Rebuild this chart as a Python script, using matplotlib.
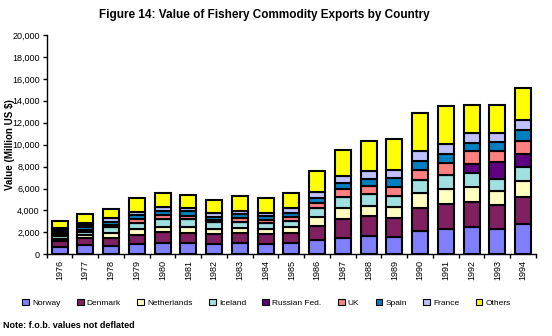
import matplotlib
matplotlib.use('Agg')
import matplotlib.pyplot as plt
from matplotlib.patches import Patch
from matplotlib.ticker import FuncFormatter
import numpy as np

plt.rcParams['font.family'] = ['Liberation Sans', 'DejaVu Sans']

years = [str(y) for y in range(1976, 1995)]
series_names = ['Norway', 'Denmark', 'Netherlands', 'Iceland', 'Russian Fed.',
                'UK', 'Spain', 'France', 'Others']

norway      = [700, 850, 790, 970, 1030, 1030, 970, 1030, 970, 1000, 1300, 1520, 1700, 1580, 2120, 2330, 2520, 2330, 2760]
denmark     = [480, 630, 730, 820, 1000, 910, 880, 910, 880, 970, 1310, 1720, 1780, 1750, 2090, 2280, 2240, 2150, 2420]
netherlands = [210, 250, 420, 540, 450, 540, 450, 480, 450, 480, 750, 970, 910, 970, 1400, 1360, 1420, 1310, 1520]
iceland     = [280, 330, 510, 550, 730, 730, 610, 550, 550, 610, 880, 1030, 1120, 1000, 1150, 1240, 1210, 1060, 1240]
russia      = [0, 0, 0, 0, 0, 0, 0, 0, 0, 0, 0, 0, 0, 0, 0, 0, 820, 1570, 1180]
uk          = [130, 150, 250, 330, 370, 310, 240, 360, 300, 360, 460, 730, 700, 820, 970, 1090, 1210, 970, 1180]
spain       = [130, 240, 270, 400, 390, 450, 270, 310, 330, 370, 450, 550, 670, 820, 750, 850, 760, 820, 1000]
france      = [460, 400, 330, 270, 300, 270, 370, 270, 280, 450, 490, 630, 730, 730, 940, 880, 850, 820, 910]
others      = [670, 790, 850, 1240, 1310, 1150, 1150, 1390, 1360, 1370, 1940, 2370, 2720, 2810, 3430, 3490, 2550, 2550, 3000]

colors = ['#8080FF', '#802060', '#FFFFC0', '#A0E0E0', '#600080',
          '#FF8080', '#0080C0', '#C0C0FF', '#FFFF00']

data = [norway, denmark, netherlands, iceland, russia, uk, spain, france, others]

fig = plt.figure(figsize=(5.52, 3.36), dpi=100)
ax = fig.add_axes([0.0846, 0.2432, 0.971 - 0.0846, 0.8958 - 0.2432])

x = np.arange(len(years))
bottom = np.zeros(len(years))
for name, vals, col in zip(series_names, data, colors):
    vals = np.array(vals, dtype=float)
    if name == 'France':
        # the earliest France segments are drawn solid black in the original
        facecols = ['black' if y in ('1976', '1977') else col for y in years]
    else:
        facecols = col
    ax.bar(x, vals, 0.62, bottom=bottom, color=facecols, edgecolor='black',
           linewidth=1.5, zorder=3)
    bottom += vals

ax.set_xlim(-0.5, len(years) - 0.5)
ax.set_ylim(0, 20000)
ax.set_yticks(np.arange(0, 20001, 2000))
ax.yaxis.set_major_formatter(FuncFormatter(lambda v, p: f'{int(v):,}'))
ax.tick_params(axis='y', labelsize=6.5, length=3, width=1, pad=2, direction='out')

ax.set_xticks(np.arange(-0.5, len(years), 1.0))
ax.set_xticklabels([])
ax.tick_params(axis='x', which='major', length=3, width=1, direction='out')
ax.set_xticks(x, minor=True)
ax.set_xticklabels(years, minor=True, rotation=90, fontsize=6.5)
ax.tick_params(axis='x', which='minor', length=0, pad=4)

for s in ['top', 'right']:
    ax.spines[s].set_visible(False)
for s in ['left', 'bottom']:
    ax.spines[s].set_linewidth(1.0)
    ax.spines[s].set_color('black')

ax.set_ylabel('Value (Million US $)', fontsize=7, fontweight='bold')
ax.yaxis.set_label_coords(-0.065, 0.5)

fig.text(0.478, 0.955, 'Figure 14: Value of Fishery Commodity Exports by Country',
         ha='center', va='center', fontsize=8.5, fontweight='bold')

handles = [Patch(facecolor=c, edgecolor='black', linewidth=0.8) for c in colors]
fig.legend(handles, series_names, loc='center', bbox_to_anchor=(0.483, 0.099),
           ncol=9, frameon=False, fontsize=6, handlelength=0.8, handleheight=0.8,
           handletextpad=0.4, columnspacing=1.95, borderpad=0.2)

fig.text(0.006, 0.031, 'Note: f.o.b. values not deflated', ha='left', va='center',
         fontsize=6.5, fontweight='bold')

fig.savefig('out.png', dpi=100)
